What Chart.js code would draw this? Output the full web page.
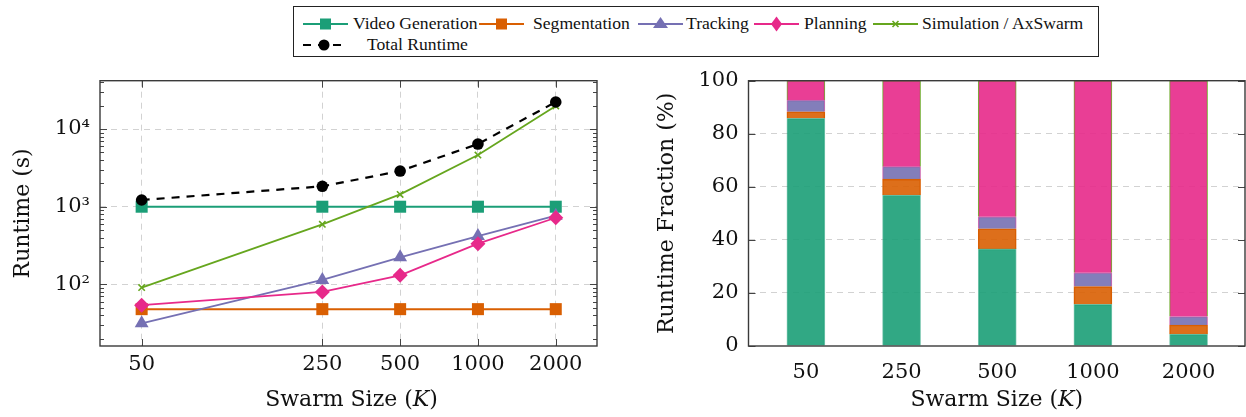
<!DOCTYPE html>
<html>
<head>
<meta charset="utf-8">
<script src="https://cdn.jsdelivr.net/npm/chart.js@4.4.1/dist/chart.umd.min.js"></script>
<style>
  html, body { margin: 0; padding: 0; background: #fff; }
  body { width: 1246px; height: 417px; position: relative; overflow: hidden; font-family: "Liberation Serif", serif; }
  .box { position: absolute; }
  #legend { position: absolute; left: 293px; top: 6px; width: 806px; height: 51px; border: 1.3px solid #222; box-sizing: border-box; }
  .lg { position: absolute; font-size: 17.6px; line-height: 20px; color: #111; white-space: nowrap; }
  .sw { position: absolute; }
</style>
</head>
<body>
<div id="legend"></div>
<div class="box" style="left:0;top:70px;width:620px;height:347px"><canvas id="runtimeChart"></canvas></div>
<div class="box" style="left:620px;top:70px;width:626px;height:347px"><canvas id="fractionChart"></canvas></div>
<script>
// swarm sizes (K)
const swarmSizes = [50, 250, 500, 1000, 2000];
const swarmLabels = ['50', '250', '500', '1000', '2000'];

// runtime in seconds
const videoGen   = [1000, 1000, 1000, 1000, 1000];
const segment    = [48, 48, 48, 48, 48];
const tracking   = [31.5, 114, 223, 419, 766];
const planning   = [54, 80, 131, 334, 721];
const simulation = [91, 593, 1440, 4620, 19800];
const totalRun   = [1220, 1830, 2880, 6410, 22300];

// runtime fraction (%) stacked segments, bottom to top
const videoFrac = [85.8, 56.9, 36.6, 15.7, 4.5];
const segFrac   = [2.5, 6.0, 7.6, 6.7, 3.4];
const trackFrac = [4.4, 4.7, 4.5, 5.2, 3.2];
const planFrac  = [7.3, 32.4, 51.3, 72.4, 88.9];

const yLogTicks = [100, 1000, 10000];
const yLogLabels = ['10²', '10³', '10⁴'];
const fracTicks = [0, 20, 40, 60, 80, 100];

const C = {
  video: '#1b9e77', seg: '#d95f02', track: '#7570b3',
  plan: '#e7298a', sim: '#66a61e', total: '#000000'
};

const SERIF = '"DejaVu Serif", serif';
const FONT = { family: SERIF, size: 21 };
const TITLE_FONT = { family: SERIF, size: 22 };
const GRID = '#d2d2d2';

// legend (html)
const legendItems = [
  { label: 'Video Generation', color: C.video, mark: 'square', sx: 303, tx: 353, row: 0 },
  { label: 'Segmentation', color: C.seg, mark: 'square', sx: 479, tx: 533, row: 0 },
  { label: 'Tracking', color: C.track, mark: 'tri', sx: 638, tx: 686, row: 0 },
  { label: 'Planning', color: C.plan, mark: 'diamond', sx: 754, tx: 804, row: 0 },
  { label: 'Simulation / AxSwarm', color: C.sim, mark: 'cross', sx: 873, tx: 922, row: 0 },
  { label: 'Total Runtime', color: C.total, mark: 'dash', sx: 303, tx: 367, row: 1 }
];

function markSvg(it) {
  const c = it.color;
  if (it.mark === 'dash') {
    return `<svg width="42" height="20"><line x1="0" y1="10" x2="41" y2="10" stroke="${c}" stroke-width="2.2" stroke-dasharray="8,7"/><circle cx="21" cy="10" r="5.5" fill="${c}"/></svg>`;
  }
  let m = '';
  if (it.mark === 'square') m = `<rect x="17" y="4.5" width="11" height="11" fill="${c}"/>`;
  if (it.mark === 'tri') m = `<polygon points="22.5,3 30,14 15,14" fill="${c}"/>`;
  if (it.mark === 'diamond') m = `<polygon points="22.5,2.5 28,10 22.5,17.5 17,10" fill="${c}"/>`;
  if (it.mark === 'cross') m = `<path d="M19.5 7 L25.5 13 M25.5 7 L19.5 13" stroke="${c}" stroke-width="1.6"/>`;
  return `<svg width="45" height="20"><line x1="0" y1="10" x2="45" y2="10" stroke="${c}" stroke-width="2"/>${m}</svg>`;
}

const legendEl = document.getElementById('legend');
legendItems.forEach(it => {
  const top = it.row === 0 ? 7 : 28;
  const sw = document.createElement('div');
  sw.className = 'sw';
  sw.style.left = (it.sx - 294) + 'px';
  sw.style.top = top + 'px';
  sw.innerHTML = markSvg(it);
  legendEl.appendChild(sw);
  const t = document.createElement('div');
  t.className = 'lg';
  t.style.left = (it.tx - 294) + 'px';
  t.style.top = (top - 1) + 'px';
  t.textContent = it.label;
  legendEl.appendChild(t);
});

// frame + inward tick marks like pgfplots, and x title with italic K
const frameTicks = {
  id: 'frameTicks',
  afterDraw(chart, args, opts) {
    const { ctx, chartArea: a, scales } = chart;
    ctx.save();
    ctx.strokeStyle = '#444';
    ctx.lineWidth = 1;
    ctx.beginPath();
    const yTick = (v, len) => {
      const y = Math.round(scales.y.getPixelForValue(v)) + 0.5;
      ctx.moveTo(a.left, y); ctx.lineTo(a.left + len, y);
      ctx.moveTo(a.right, y); ctx.lineTo(a.right - len, y);
    };
    const xTick = (v, len) => {
      const x = Math.round(scales.x.getPixelForValue(v)) + 0.5;
      ctx.moveTo(x, a.bottom); ctx.lineTo(x, a.bottom - len);
      ctx.moveTo(x, a.top); ctx.lineTo(x, a.top + len);
    };
    (opts.yMajor || []).forEach(v => yTick(v, 7));
    (opts.yMinor || []).forEach(v => yTick(v, 4));
    (opts.xMajor || []).forEach(v => xTick(v, 7));
    ctx.stroke();
    ctx.lineWidth = 1.4;
    ctx.strokeStyle = '#3a3a3a';
    ctx.strokeRect(a.left, a.top, a.right - a.left, a.bottom - a.top);

    // "Swarm Size (K)" with italic K
    const parts = [['Swarm Size (', ''], ['K', 'italic '], [')', '']];
    const sz = TITLE_FONT.size;
    let total = 0;
    parts.forEach(p => { ctx.font = p[1] + sz + 'px ' + SERIF; total += ctx.measureText(p[0]).width; });
    let x = (a.left + a.right) / 2 - total / 2 + (opts.titleShift || 0);
    ctx.fillStyle = '#111';
    ctx.textBaseline = 'alphabetic';
    ctx.textAlign = 'left';
    parts.forEach(p => {
      ctx.font = p[1] + sz + 'px ' + SERIF;
      ctx.fillText(p[0], x, opts.titleY);
      x += ctx.measureText(p[0]).width;
    });
    ctx.restore();
  }
};

const yMinor = [];
[10, 100, 1000, 10000].forEach(d => {
  for (let k = 2; k <= 9; k++) {
    const v = d * k;
    if (v > 16.1 && v < 41900) yMinor.push(v);
  }
});

function lineSet(label, vals, color, style, radius, width, order, extra) {
  return Object.assign({
    label,
    data: vals.map((v, i) => ({ x: swarmSizes[i], y: v })),
    borderColor: color,
    backgroundColor: color,
    pointBackgroundColor: color,
    pointBorderColor: color,
    pointStyle: style,
    pointRadius: radius,
    pointBorderWidth: style === 'crossRot' ? 1.6 : 0,
    borderWidth: width,
    order,
    clip: false
  }, extra || {});
}

new Chart(document.getElementById('runtimeChart'), {
  type: 'line',
  data: {
    datasets: [
      lineSet('Video Generation', videoGen, C.video, 'rect', 8.5, 2, 5),
      lineSet('Segmentation', segment, C.seg, 'rect', 8.5, 2, 4),
      lineSet('Tracking', tracking, C.track, 'triangle', 8, 1.8, 3),
      lineSet('Planning', planning, C.plan, 'rectRot', 7.5, 1.8, 2),
      lineSet('Simulation / AxSwarm', simulation, C.sim, 'crossRot', 4.5, 1.8, 1),
      lineSet('Total Runtime', totalRun, C.total, 'circle', 5.8, 2.2, 0, { borderDash: [8, 7] })
    ]
  },
  options: {
    responsive: true,
    maintainAspectRatio: false,
    animation: false,
    layout: { padding: { top: 10.7, right: 23, left: 0, bottom: 0 } },
    plugins: {
      legend: { display: false },
      tooltip: { enabled: false },
      frameTicks: { yMajor: yLogTicks, yMinor: yMinor, xMajor: swarmSizes, titleY: 335.5, titleShift: 3 }
    },
    scales: {
      x: {
        type: 'logarithmic',
        min: 34.5, max: 2888,
        afterBuildTicks: s => { s.ticks = swarmSizes.map(v => ({ value: v })); },
        afterFit: s => { s.height = 71; s.paddingLeft = 0; s.paddingRight = 0; },
        ticks: { font: FONT, color: '#111', padding: 6, autoSkip: false, maxRotation: 0,
                 callback: (v, i) => swarmLabels[i] },
        grid: { color: GRID, lineWidth: 1, drawTicks: false },
        border: { display: false, dash: [6, 5] },
        title: { display: false }
      },
      y: {
        type: 'logarithmic',
        min: 16.1, max: 41900,
        afterBuildTicks: s => { s.ticks = yLogTicks.map(v => ({ value: v })); },
        afterFit: s => { s.width = 100; s.paddingTop = 0; s.paddingBottom = 0; },
        ticks: { font: FONT, color: '#111', padding: 10, callback: (v, i) => yLogLabels[i] },
        grid: { color: GRID, lineWidth: 1, drawTicks: false },
        border: { display: false, dash: [6, 5] },
        title: { display: true, text: 'Runtime (s)', font: TITLE_FONT, color: '#111', padding: { top: 10, bottom: 0 } }
      }
    }
  },
  plugins: [frameTicks]
});

function barSet(label, vals, fill, border, bw) {
  return {
    label,
    data: vals.map((v, i) => ({ x: i, y: v })),
    backgroundColor: fill,
    borderColor: border,
    borderWidth: bw,
    borderSkipped: 'bottom',
    barThickness: 38
  };
}

new Chart(document.getElementById('fractionChart'), {
  type: 'bar',
  data: {
    datasets: [
      barSet('Video Generation', videoFrac, 'rgba(27,158,119,0.9)', 'rgba(27,158,119,0.6)', 1),
      barSet('Segmentation', segFrac, 'rgba(217,95,2,0.9)', 'rgba(217,95,2,1)', 1),
      barSet('Tracking', trackFrac, 'rgba(117,112,179,0.9)', 'rgba(200,90,170,0.9)', 1),
      barSet('Planning', planFrac, 'rgba(231,41,138,0.9)', 'rgba(102,166,30,0.9)', 1)
    ]
  },
  options: {
    responsive: true,
    maintainAspectRatio: false,
    animation: false,
    layout: { padding: { top: 10.7, right: 1, left: 0, bottom: 0 } },
    plugins: {
      legend: { display: false },
      tooltip: { enabled: false },
      frameTicks: { yMajor: fracTicks, titleY: 335.5, titleShift: 0 }
    },
    scales: {
      x: {
        type: 'linear',
        stacked: true,
        offset: false,
        min: -0.6, max: 4.59,
        afterBuildTicks: s => { s.ticks = swarmLabels.map((_, i) => ({ value: i })); },
        afterFit: s => { s.height = 71; s.paddingLeft = 0; s.paddingRight = 0; },
        ticks: { font: FONT, color: '#111', padding: 6, autoSkip: false, maxRotation: 0,
                 callback: (v, i) => swarmLabels[i] },
        grid: { display: false, offset: false },
        border: { display: false },
        title: { display: false }
      },
      y: {
        stacked: true,
        min: 0, max: 100,
        afterBuildTicks: s => { s.ticks = fracTicks.map(v => ({ value: v })); },
        afterFit: s => { s.width = 128.5; s.paddingTop = 0; s.paddingBottom = 0; },
        ticks: { font: FONT, color: '#111', padding: 10 },
        grid: {
          drawTicks: false, lineWidth: 1,
          color: c => (c.tick && c.tick.value > 0 && c.tick.value < 100) ? GRID : 'rgba(0,0,0,0)'
        },
        border: { display: false, dash: [6, 5] },
        title: { display: true, text: 'Runtime Fraction (%)', font: TITLE_FONT, color: '#111', padding: { top: 34.3, bottom: 0 } }
      }
    }
  },
  plugins: [frameTicks]
});
</script>
</body>
</html>
